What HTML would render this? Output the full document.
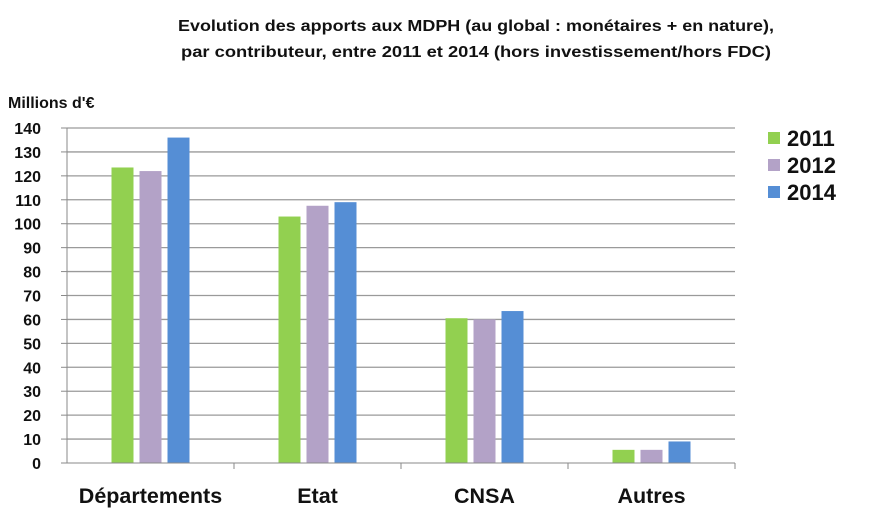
<!DOCTYPE html>
<html><head><meta charset="utf-8"><style>
body{margin:0;background:#fff;}
svg text{font-family:"Liberation Sans",sans-serif;}
</style></head><body>
<svg id="chart" width="889" height="527">
<text x="476" y="31" text-anchor="middle" font-size="16" font-weight="bold" fill="#111" textLength="596" lengthAdjust="spacingAndGlyphs">Evolution des apports aux MDPH (au global : monétaires + en nature),</text>
<text x="476" y="57" text-anchor="middle" font-size="16" font-weight="bold" fill="#111" textLength="590" lengthAdjust="spacingAndGlyphs">par contributeur, entre 2011 et 2014 (hors investissement/hors FDC)</text>
<text x="8" y="108" font-size="16" font-weight="bold" fill="#111">Millions d'€</text>
<g id="grid"></g><g id="bars"></g><g id="axes"></g><g id="legend"></g>
</svg>
<script>
const categories=["Départements","Etat","CNSA","Autres"];
const series=["2011","2012","2014"];
const v2011=[123.5,103,60.5,5.5];
const v2012=[122,107.5,60,5.5];
const v2014=[136,109,63.5,9];
const yTicks=[0,10,20,30,40,50,60,70,80,90,100,110,120,130,140];
const colors=["#92d050","#b3a2c7","#558ed5"];
const NS="http://www.w3.org/2000/svg";
const x0=67,x1=735,y0=463,yTop=128,yMax=140;
const y=v=>y0-(v/yMax)*(y0-yTop);
const cw=(x1-x0)/categories.length;
function mk(t,a,p){const e=document.createElementNS(NS,t);for(const k in a)e.setAttribute(k,a[k]);p.appendChild(e);return e;}
const grid=document.getElementById('grid'),bars=document.getElementById('bars'),axes=document.getElementById('axes'),leg=document.getElementById('legend');
yTicks.forEach(t=>{
 if(t>0){const l=mk('line',{x1:x0,x2:x1,y1:y(t),y2:y(t),stroke:'#9a9a9a','stroke-width':1.3},grid);
 
 }
 mk('line',{x1:x0-6,x2:x0,y1:y(t),y2:y(t),stroke:'#8a8a8a'},axes);
 const tx=mk('text',{x:41,y:y(t)+6,'text-anchor':'end','font-size':16,'font-weight':'bold',fill:'#111'},axes);
 tx.textContent=t;
 
 
});
mk('line',{x1:x0,x2:x0,y1:yTop,y2:y0,stroke:'#8a8a8a'},axes);
mk('line',{x1:x0,x2:x1,y1:y0,y2:y0,stroke:'#8a8a8a'},axes);
const vals=[v2011,v2012,v2014];
categories.forEach((c,i)=>{
 const cx=x0+cw*(i+0.5);
 mk('line',{x1:x0+cw*(i+1),x2:x0+cw*(i+1),y1:y0,y2:y0+6,stroke:'#8a8a8a'},axes);
 vals.forEach((arr,s)=>{
  const bx=cx-39+s*28;
  const r=mk('rect',{x:bx,y:y(arr[i]),width:22,height:y0-y(arr[i]),fill:colors[s]},bars);
  
  
 });
 const t=mk('text',{x:cx,y:503,'text-anchor':'middle','font-size':21.5,'font-weight':'bold',fill:'#111'},axes);
 t.textContent=c;
 
 
});
series.forEach((s,k)=>{
 const ly=138+k*27;
 const r=mk('rect',{x:768,y:ly-6,width:12,height:12,fill:colors[k]},leg);
 
 
 const t=mk('text',{x:787,y:ly+8,'font-size':22,'font-weight':'bold',fill:'#111'},leg);
 t.textContent=s;
 
 
});
</script>
</body></html>
